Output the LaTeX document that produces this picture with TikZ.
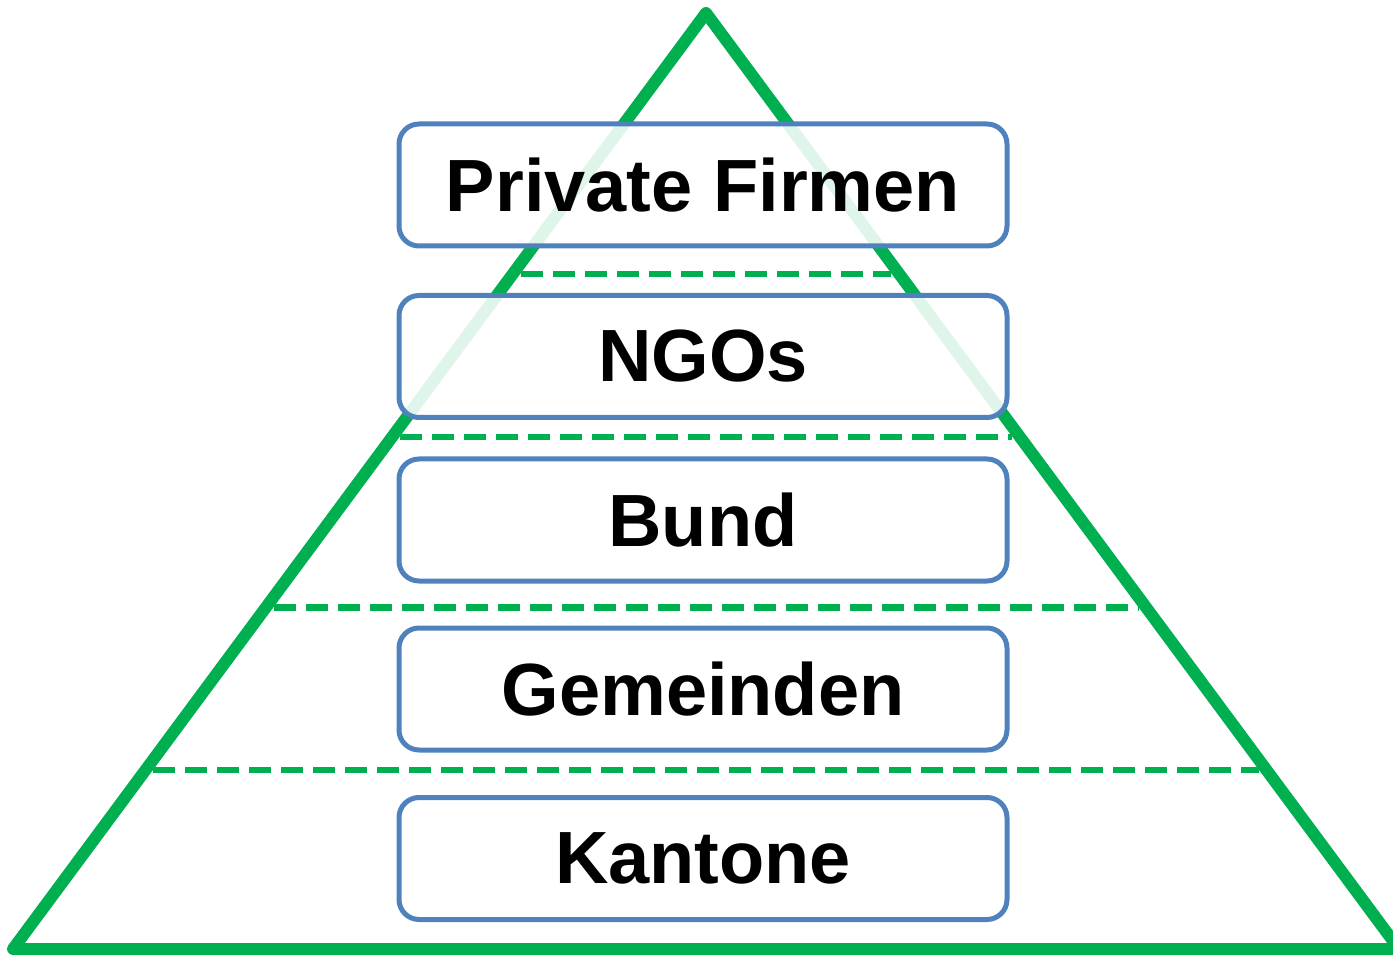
\documentclass[tikz,border=0pt]{standalone}
\usepackage{fontspec}
\setmainfont{Liberation Sans}
\usetikzlibrary{positioning, calc}
\definecolor{leaf} {HTML}{00B050}
\definecolor{steel}{HTML}{4F81BD}
\tikzset{
  layer/.style   = {draw=steel, line width=5pt, rounded corners=20pt,
                    fill=white, fill opacity=0.88, text opacity=1,
                    minimum width=608pt, minimum height=122pt, outer sep=0pt,
                    font=\fontsize{74}{80}\selectfont\bfseries},
  tier/.style    = {leaf, line width=6.5pt, dash pattern=on 22pt off 10pt,
                    shorten <=8pt, shorten >=8pt},
  pyramid/.style = {leaf, line width=12pt, line join=round},
}
\begin{document}
\begin{tikzpicture}[x=1pt, y=-1pt]

  \useasboundingbox (0,0) rectangle (1393,957);
  \clip (0,0) rectangle (1393,957);

  % triangle corners
  \coordinate (apex)  at (706,13);
  \coordinate (left)  at (13,949);
  \coordinate (right) at (1399,949);

  % dashed tiers
  \foreach \t in {0.279, 0.453, 0.635, 0.809}
    \draw[tier] ($(apex)!\t!(left)$) -- ($(apex)!\t!(right)$);

  \draw[pyramid] (apex) -- (right) -- (left) -- cycle;

  % layers
  \node[layer] (firmen) at (703,185) {Private Firmen};
  \node[layer, below=49.5pt of firmen] (ngos)      {NGOs};
  \node[layer, below=41.5pt of ngos]   (bund)      {Bund};
  \node[layer, below=47pt of bund]     (gemeinden) {Gemeinden};
  \node[layer, below=47.5pt of gemeinden] (kantone) {Kantone};

\end{tikzpicture}
\end{document}
